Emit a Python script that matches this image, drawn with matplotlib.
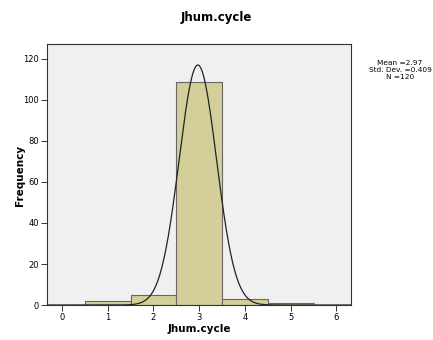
import numpy as np
import matplotlib
matplotlib.use("Agg")
import matplotlib.pyplot as plt

categories = [1, 2, 3, 4, 5]
counts = [2, 5, 109, 3, 1]
mean_val = 2.97
sd_val = 0.409
n_val = 120
xticks = [0, 1, 2, 3, 4, 5, 6]
yticks = [0, 20, 40, 60, 80, 100, 120]

fig = plt.figure(figsize=(4.33, 3.4), dpi=100)
ax = fig.add_axes([0.1085, 0.1029, 0.7021, 0.7677])
ax.set_facecolor("#F0F0F0")
ax.bar(categories, counts, width=1.0, color="#D4CF99", edgecolor="#666666", linewidth=0.8, zorder=2)

xs = np.linspace(-0.33, 6.32, 600)
ys = n_val * 1.0 / (sd_val * np.sqrt(2 * np.pi)) * np.exp(-0.5 * ((xs - mean_val) / sd_val) ** 2)
ax.plot(xs, ys, color="#222222", linewidth=0.9, zorder=3)

ax.set_xlim(-0.33, 6.32)
ax.set_ylim(0, 127.3)
ax.set_xticks(xticks)
ax.set_yticks(yticks)
ax.tick_params(labelsize=6, length=4, width=0.7, color="#333333", pad=2)
for s in ax.spines.values():
    s.set_color("#333333")
    s.set_linewidth(0.8)
ax.set_xlabel("Jhum.cycle", fontsize=7.5, fontweight="bold", labelpad=1)
fig.text(0.046, 0.485, "Frequency", rotation=90, ha="center", va="center",
         fontsize=7.5, fontweight="bold")
fig.text(0.5, 0.95, "Jhum.cycle", ha="center", va="center", fontsize=8.5, fontweight="bold")
fig.text(0.924, 0.794, "Mean =2.97\nStd. Dev. =0.409\nN =120", ha="center", va="center",
         fontsize=5.3, linespacing=1.15)
fig.savefig("out.png", dpi=100)
